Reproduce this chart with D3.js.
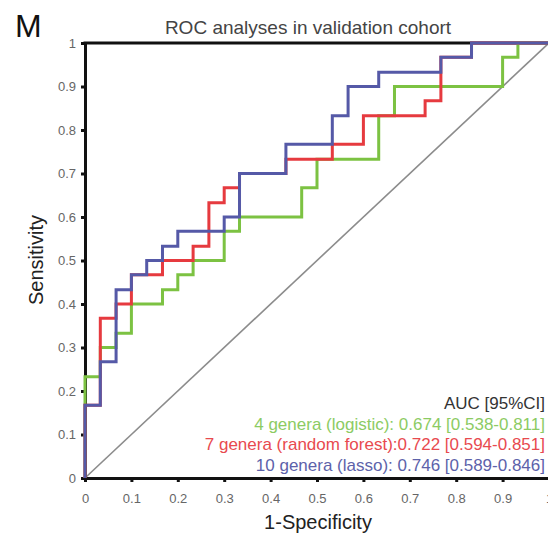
<!DOCTYPE html>
<html>
<head>
<meta charset="utf-8">
<script src="https://cdn.jsdelivr.net/npm/d3@7"></script>
<style>
    body { margin: 0; background: #fff; }
    text { font-family: "Liberation Sans", Arial, sans-serif; }
</style>
</head>
<body>
<script>
//wrap everything in a self-executing anonymous function
(function(){

//ROC corner points (1-specificity, sensitivity)
var logisticFpr = [0, 0, 0.033, 0.067, 0.1, 0.167, 0.2, 0.233, 0.3, 0.333, 0.467, 0.5, 0.633, 0.667, 0.9, 0.933, 1];
var logisticTpr = [0, 0.233, 0.3, 0.333, 0.4, 0.433, 0.467, 0.5, 0.567, 0.6, 0.667, 0.733, 0.833, 0.9, 0.967, 1, 1];

var forestFpr = [0, 0, 0.033, 0.067, 0.1, 0.167, 0.233, 0.267, 0.3, 0.333, 0.433, 0.533, 0.6, 0.733, 0.767, 0.833, 1];
var forestTpr = [0, 0.167, 0.367, 0.4, 0.467, 0.5, 0.533, 0.633, 0.667, 0.7, 0.733, 0.767, 0.833, 0.867, 0.967, 1, 1];

var lassoFpr = [0, 0, 0.033, 0.067, 0.1, 0.133, 0.167, 0.2, 0.3, 0.333, 0.433, 0.533, 0.567, 0.633, 0.767, 0.833, 1];
var lassoTpr = [0, 0.167, 0.267, 0.433, 0.467, 0.5, 0.533, 0.567, 0.6, 0.7, 0.767, 0.833, 0.9, 0.933, 0.967, 1, 1];

//legend lines
var legendLabels = [
    "4 genera (logistic): 0.674 [0.538-0.811]",
    "7 genera (random forest):0.722 [0.594-0.851]",
    "10 genera (lasso): 0.746 [0.589-0.846]"
];

//tick values and labels
var tickValues = [0, 0.1, 0.2, 0.3, 0.4, 0.5, 0.6, 0.7, 0.8, 0.9, 1];
var tickLabels = ["0", "0.1", "0.2", "0.3", "0.4", "0.5", "0.6", "0.7", "0.8", "0.9", "1"];

var curveColors = ["#7cc242", "#e63a3f", "#5559a7"];
var textColors = ["#8ccb63", "#e84a4f", "#5d62aa"];

setChart();

function setChart(){
    //frame dimensions
    var width = 548,
        height = 534,
        left = 85,
        right = 549,
        top = 43,
        bottom = 478;

    var svg = d3.select("body")
        .append("svg")
        .attr("width", width)
        .attr("height", height);

    //scales
    var x = d3.scaleLinear().domain([0, 1]).range([left, right]);
    var y = d3.scaleLinear().domain([0, 1]).range([bottom, top]);

    //panel letter and title
    svg.append("text")
        .attr("x", 15)
        .attr("y", 37)
        .style("font-size", "32px")
        .style("fill", "#111")
        .text("M");

    svg.append("text")
        .attr("x", 308)
        .attr("y", 34)
        .attr("text-anchor", "middle")
        .style("font-size", "19px")
        .style("fill", "#444")
        .text("ROC analyses in validation cohort");

    //diagonal reference line
    svg.append("line")
        .attr("x1", x(0)).attr("y1", y(0))
        .attr("x2", x(1)).attr("y2", y(1))
        .style("stroke", "#8c8c8c")
        .style("stroke-width", 1.6);

    //top border
    svg.append("line")
        .attr("x1", x(0) - 1.5).attr("y1", y(1))
        .attr("x2", width).attr("y2", y(1))
        .style("stroke", "#111")
        .style("stroke-width", 3);

    //axes
    var xAxis = d3.axisBottom(x)
        .tickValues(tickValues)
        .tickSize(4)
        .tickPadding(12)
        .tickFormat(function(d, i){ return tickLabels[i]; });

    var yAxis = d3.axisLeft(y)
        .tickValues(tickValues)
        .tickSize(4)
        .tickPadding(5)
        .tickFormat(function(d, i){ return tickLabels[i]; });

    var gx = svg.append("g")
        .attr("transform", "translate(0," + bottom + ")")
        .call(xAxis);

    var gy = svg.append("g")
        .attr("transform", "translate(" + left + ",0)")
        .call(yAxis);

    [gx, gy].forEach(function(g){
        g.select(".domain")
            .style("stroke", "#111")
            .style("stroke-width", 3);
        g.selectAll(".tick line")
            .style("stroke", "#111")
            .style("stroke-width", 3);
        g.selectAll(".tick text")
            .style("font-size", "13px")
            .style("fill", "#666");
    });

    //axis titles
    svg.append("text")
        .attr("x", 318)
        .attr("y", 529)
        .attr("text-anchor", "middle")
        .style("font-size", "20px")
        .style("fill", "#222")
        .text("1-Specificity");

    svg.append("text")
        .attr("transform", "translate(43,260) rotate(-90)")
        .attr("text-anchor", "middle")
        .style("font-size", "20px")
        .style("fill", "#222")
        .text("Sensitivity");

    //step curves
    var line = d3.line()
        .x(function(d){ return x(d[0]); })
        .y(function(d){ return y(d[1]); })
        .curve(d3.curveStepAfter);

    var series = [
        d3.zip(logisticFpr, logisticTpr),
        d3.zip(forestFpr, forestTpr),
        d3.zip(lassoFpr, lassoTpr)
    ];

    svg.selectAll(".roc")
        .data(series)
        .enter()
        .append("path")
        .attr("class", "roc")
        .attr("d", line)
        .style("fill", "none")
        .style("stroke", function(d, i){ return curveColors[i]; })
        .style("stroke-width", 3);

    //legend
    svg.append("text")
        .attr("x", 545)
        .attr("y", 409)
        .attr("text-anchor", "end")
        .style("font-size", "17px")
        .style("fill", "#333")
        .text("AUC [95%CI]");

    svg.selectAll(".legendText")
        .data(legendLabels)
        .enter()
        .append("text")
        .attr("class", "legendText")
        .attr("x", 545)
        .attr("y", function(d, i){ return 429.5 + i * 20.5; })
        .attr("text-anchor", "end")
        .style("font-size", "17px")
        .style("fill", function(d, i){ return textColors[i]; })
        .text(function(d){ return d; });
};
})();
</script>
</body>
</html>
